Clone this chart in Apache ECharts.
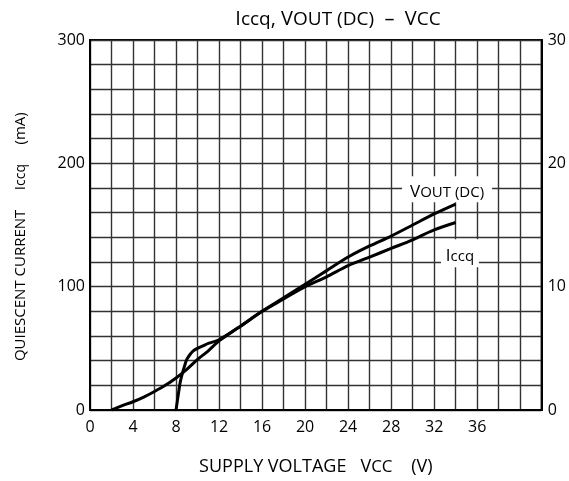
<!DOCTYPE html>
<html>
<head>
<meta charset="utf-8">
<script src="https://cdn.jsdelivr.net/npm/echarts@6/dist/echarts.min.js"></script>
<style>
html,body{margin:0;padding:0;background:#fff;}
#c{width:569px;height:481px;}
</style>
</head>
<body>
<div id="c"></div>
<script>
// Supply voltage (V) sample points and readings
var iccqVcc = [2.0, 3, 4, 5, 6, 7, 8, 9, 10, 11, 12, 14, 16, 18, 20, 22, 24, 26, 28, 30, 32, 34];
var iccqMa  = [0, 3.5, 6.7, 10.5, 15, 20, 26, 33, 41, 48, 56, 68, 80, 90, 100, 108, 117, 124, 131, 138, 146, 152];

var voutVcc = [8, 8.2, 8.4, 8.6, 8.8, 9.0, 9.3, 9.6, 10, 10.5, 11, 12, 14, 16, 18, 20, 22, 24, 26, 28, 30, 32, 34];
var voutV   = [0, 1.2, 2.3, 3.0, 3.6, 4.1, 4.5, 4.8, 5.0, 5.2, 5.4, 5.7, 6.8, 8.0, 9.1, 10.2, 11.3, 12.4, 13.3, 14.1, 15.0, 15.9, 16.7];

var xTickLabels = [0, 4, 8, 12, 16, 20, 24, 28, 32, 36];
var leftTickLabels = [0, 100, 200, 300];
var rightTickLabels = [0, 10, 20, 30];

var FONT = 'Open Sans';

function pairs(xs, ys) { return xs.map(function (x, i) { return [x, ys[i]]; }); }

var chart = echarts.init(document.getElementById('c'), null, {renderer: 'canvas'});

var gridLine = {show: true, lineStyle: {color: '#333', width: 1.4}};

chart.setOption({
  animation: false,
  backgroundColor: '#fff',
  title: {
    text: '{m|I}{s|ccq}{m|, V}{s|OUT (DC)}{m|  –  V}{s|CC}',
    left: 333, textAlign: 'center', top: -2,
    textStyle: {
      fontWeight: 'normal',
      rich: {
        m: {fontFamily: FONT, fontSize: 20, fontWeight: 'normal', color: '#000', lineHeight: 26, verticalAlign: 'bottom'},
        s: {fontFamily: FONT, fontSize: 19, fontWeight: 'normal', color: '#000', lineHeight: 21, verticalAlign: 'bottom'}
      }
    }
  },
  grid: {left: 90, right: 27, top: 40, bottom: 68, show: true, borderColor: '#000', borderWidth: 2, backgroundColor: 'transparent'},
  xAxis: {
    type: 'value', min: 0, max: 42, interval: 2,
    axisLine: {show: true, lineStyle: {color: '#000', width: 2}},
    axisTick: {show: false},
    splitLine: gridLine,
    axisLabel: {
      fontFamily: FONT, fontSize: 16, color: '#000', margin: 9,
      formatter: function (v) { return xTickLabels.indexOf(v) >= 0 ? String(v) : ''; }
    },
    name: '{n|SUPPLY VOLTAGE   V}{s|CC}{n|    (V)}',
    nameLocation: 'middle', nameGap: 42,
    nameTextStyle: {
      rich: {
        n: {fontFamily: FONT, fontSize: 18, color: '#000', lineHeight: 24, verticalAlign: 'bottom'},
        s: {fontFamily: FONT, fontSize: 17, color: '#000', lineHeight: 19, verticalAlign: 'bottom'}
      }
    }
  },
  yAxis: [{
    type: 'value', min: 0, max: 300, interval: 20, position: 'left',
    axisLine: {show: true, lineStyle: {color: '#000', width: 2}},
    axisTick: {show: false},
    splitLine: gridLine,
    axisLabel: {
      fontFamily: FONT, fontSize: 16, color: '#000', margin: 5,
      formatter: function (v) { return leftTickLabels.indexOf(v) >= 0 ? String(v) : ''; }
    },
    name: '{n|QUIESCENT CURRENT     I}{s|ccq}{n|     (mA)      }',
    nameLocation: 'middle', nameGap: 62, nameRotate: 90,
    nameTextStyle: {
      rich: {
        n: {fontFamily: FONT, fontSize: 15, color: '#000', lineHeight: 22, verticalAlign: 'bottom'},
        s: {fontFamily: FONT, fontSize: 14, color: '#000', lineHeight: 17, verticalAlign: 'bottom'}
      }
    }
  }, {
    type: 'value', min: 0, max: 30, interval: 2, position: 'right',
    axisLine: {show: true, lineStyle: {color: '#000', width: 2}},
    axisTick: {show: false},
    splitLine: {show: false},
    axisLabel: {
      fontFamily: FONT, fontSize: 16, color: '#000', margin: 6,
      formatter: function (v) { return rightTickLabels.indexOf(v) >= 0 ? String(v) : ''; }
    }
  }],
  series: [{
    name: 'Iccq', type: 'line', yAxisIndex: 0,
    data: pairs(iccqVcc, iccqMa),
    smooth: 0.3, symbol: 'none',
    lineStyle: {color: '#000', width: 3},
    markPoint: {
      symbol: 'rect', symbolSize: [38, 28],
      itemStyle: {color: '#fff'},
      data: [{coord: [34.4, 127]}],
      label: {
        show: true, position: 'inside',
        formatter: '{m|I}{s|ccq}',
        rich: {
          m: {fontFamily: FONT, fontSize: 17, color: '#000', lineHeight: 22, verticalAlign: 'bottom'},
          s: {fontFamily: FONT, fontSize: 15, color: '#000', lineHeight: 16, verticalAlign: 'bottom'}
        }
      }
    }
  }, {
    name: 'VOUT', type: 'line', yAxisIndex: 1,
    data: pairs(voutVcc, voutV),
    smooth: 0.3, symbol: 'none',
    lineStyle: {color: '#000', width: 3},
    markPoint: {
      symbol: 'rect', symbolSize: [90, 26],
      itemStyle: {color: '#fff'},
      data: [{coord: [33.2, 17.9]}],
      label: {
        show: true, position: 'inside',
        formatter: '{m|V}{s|OUT (DC)}',
        rich: {
          m: {fontFamily: FONT, fontSize: 17, color: '#000', lineHeight: 22, verticalAlign: 'bottom'},
          s: {fontFamily: FONT, fontSize: 15, color: '#000', lineHeight: 18, verticalAlign: 'bottom'}
        }
      }
    }
  }]
});
</script>
</body>
</html>
